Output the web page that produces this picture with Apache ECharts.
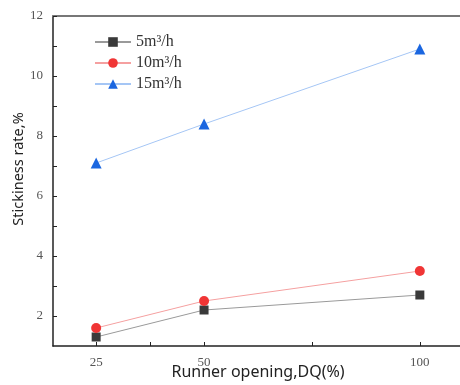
<!DOCTYPE html>
<html>
<head>
<meta charset="utf-8">
<script src="https://cdn.jsdelivr.net/npm/echarts@6/dist/echarts.min.js"></script>
<style>html,body{margin:0;padding:0;background:#fff}#c{width:460px;height:385px}</style>
</head>
<body>
<div id="c"></div>
<script>
const xValues = [25, 50, 100];
const seriesNames = ['5m³/h', '10m³/h', '15m³/h'];
const s5 = [1.3, 2.2, 2.7];
const s10 = [1.6, 2.5, 3.5];
const s15 = [7.1, 8.4, 10.9];
const xTickLabels = [25, 50, 100];
const xTicks = [25, 37.5, 50, 75, 100];
const yTickLabels = [2, 4, 6, 8, 10, 12];
const yTicks = [2, 3, 4, 5, 6, 7, 8, 9, 10, 11, 12];

const chart = echarts.init(document.getElementById('c'), null, {renderer: 'canvas'});
const serif = 'Liberation Serif, DejaVu Serif, serif';
const sans = 'Noto Sans, DejaVu Sans, sans-serif';
function mk(name, data, color, lineColor, symbol, size) {
  return {
    name: name, type: 'line', data: xValues.map((x, i) => [x, data[i]]),
    symbol: symbol, symbolSize: size,
    itemStyle: {color: color},
    lineStyle: {color: lineColor, width: 1},
    animation: false
  };
}
chart.setOption({
  animation: false,
  grid: {left: 53, top: 16, right: -3, bottom: 39, outerBoundsMode: 'none', containLabel: false},
  legend: {
    orient: 'vertical', left: 89, top: 29, itemGap: 5, itemWidth: 36, itemHeight: 12,
    textStyle: {fontFamily: serif, fontSize: 16, color: '#333'},
    data: seriesNames
  },
  xAxis: [{
    type: 'value', min: 15, max: 110,
    name: 'Runner opening,DQ(%)', nameLocation: 'middle', nameGap: 18, nameMoveOverlap: false,
    nameTextStyle: {fontFamily: sans, fontSize: 16, color: '#222', verticalAlign: 'top'},
    axisLine: {lineStyle: {color: '#222', width: 1.5}},
    axisTick: {inside: true, length: 4, customValues: xTicks, lineStyle: {color: '#222'}},
    axisLabel: {customValues: xTickLabels, fontFamily: serif, fontSize: 13, color: '#555', margin: 10},
    splitLine: {show: false}
  }, {
    type: 'value', min: 15, max: 110, position: 'top',
    axisLine: {show: true, lineStyle: {color: '#777', width: 2}},
    axisTick: {show: false}, axisLabel: {show: false}, splitLine: {show: false}
  }],
  yAxis: {
    type: 'value', min: 1, max: 12,
    name: 'Stickiness rate,%', nameLocation: 'middle', nameGap: 27, nameMoveOverlap: false,
    nameTextStyle: {fontFamily: sans, fontSize: 14.5, color: '#222', padding: [0, 0, 0, 24]},
    axisLine: {show: true, lineStyle: {color: '#222', width: 1.5}},
    axisTick: {inside: true, length: 4, customValues: yTicks, lineStyle: {color: '#222'}},
    axisLabel: {customValues: yTickLabels, fontFamily: serif, fontSize: 13, color: '#555', margin: 10},
    splitLine: {show: false}
  },
  series: [
    mk(seriesNames[0], s5, '#3a3a3a', '#9a9a9a', 'rect', 9),
    mk(seriesNames[1], s10, '#f03535', '#f5a0a0', 'circle', 10),
    mk(seriesNames[2], s15, '#1a66e0', '#a5c6f5', 'triangle', 11)
  ]
});
</script>
</body>
</html>
